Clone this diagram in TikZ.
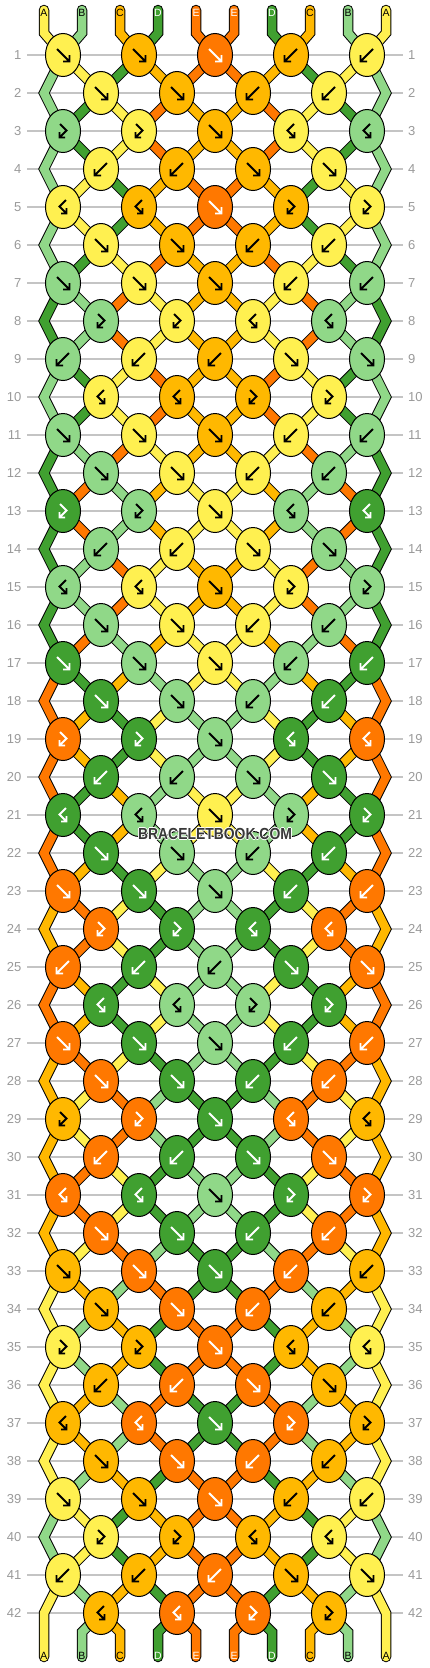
\documentclass[tikz,border=0pt]{standalone}
\usepackage{fontspec}
\setmainfont{Liberation Sans}
\usetikzlibrary{shapes.geometric}
\definecolor{cY}{HTML}{FFF050}
\definecolor{cL}{HTML}{90D888}
\definecolor{cO}{HTML}{FFB800}
\definecolor{cG}{HTML}{40A030}
\definecolor{cR}{HTML}{FF7800}
\colorlet{gY}{black}\colorlet{gL}{black}\colorlet{gO}{black}
\colorlet{gG}{white}\colorlet{gR}{white}
\definecolor{rowgray}{HTML}{9A9A9A}
\definecolor{linegray}{HTML}{C4C4C4}
\definecolor{wmgray}{HTML}{383838}
\newcommand\bbletY{A}\newcommand\bbletL{B}\newcommand\bbletO{C}\newcommand\bbletG{D}\newcommand\bbletR{E}
\tikzset{
  knot/.style={ellipse, draw=black, line width=1pt, minimum width=35pt, minimum height=43pt, inner sep=0pt},
  strandout/.style={line width=10.5pt, line cap=round, line join=miter},
  strandin/.style={line width=8.5pt, line cap=round, line join=miter},
  glyph/.style={line width=1.9pt, line cap=butt, line join=miter},
  gridline/.style={draw=linegray, line width=1.4pt},
  rownum/.style={text=rowgray, font=\fontsize{13}{13}\selectfont, inner sep=0pt},
  lab/.style={font=\fontsize{10.5}{10.5}\selectfont, inner sep=0pt},
  wm/.style={font=\fontsize{16}{16}\selectfont\bfseries, xscale=0.87, inner sep=0pt}
}
\newcommand\kgf[2]{\draw[glyph,draw=#2,shift={#1}] (-6,-6) -- (6.5,6.5) (0,6.5) -- (6.5,6.5) -- (6.5,0);}
\newcommand\kgb[2]{\draw[glyph,draw=#2,shift={#1}] (6,-6) -- (-6.5,6.5) (0,6.5) -- (-6.5,6.5) -- (-6.5,0);}
\newcommand\kgfb[2]{\draw[glyph,draw=#2,shift={#1}] (-3,-7) -- (3.5,-0.5) -- (-3.5,6.5) (-3.5,1) -- (-3.5,6.5) -- (2,6.5);}
\newcommand\kgbf[2]{\draw[glyph,draw=#2,shift={#1}] (3,-7) -- (-3.5,-0.5) -- (3.5,6.5) (3.5,1) -- (3.5,6.5) -- (-2,6.5);}
\newcommand\knotdata{
1/{Y/f,O/f,R/f,O/b,Y/b},
2/{Y/f,O/f,O/b,Y/b},
3/{L/fb,Y/fb,O/f,Y/bf,L/bf},
4/{Y/b,O/b,O/f,Y/f},
5/{Y/bf,O/bf,R/f,O/fb,Y/fb},
6/{Y/f,O/f,O/b,Y/b},
7/{L/f,Y/f,O/f,Y/b,L/b},
8/{L/fb,Y/fb,Y/bf,L/bf},
9/{L/b,Y/b,O/b,Y/f,L/f},
10/{Y/bf,O/bf,O/fb,Y/fb},
11/{L/f,Y/f,O/f,Y/b,L/b},
12/{L/f,Y/f,Y/b,L/b},
13/{G/fb,L/fb,Y/f,L/bf,G/bf},
14/{L/b,Y/b,Y/f,L/f},
15/{L/bf,Y/bf,O/f,Y/fb,L/fb},
16/{L/f,Y/f,Y/b,L/b},
17/{G/f,L/f,Y/f,L/b,G/b},
18/{G/f,L/f,L/b,G/b},
19/{R/fb,G/fb,L/f,G/bf,R/bf},
20/{G/b,L/b,L/f,G/f},
21/{G/bf,L/bf,Y/f,L/fb,G/fb},
22/{G/f,L/f,L/b,G/b},
23/{R/f,G/f,L/f,G/b,R/b},
24/{R/fb,G/fb,G/bf,R/bf},
25/{R/b,G/b,L/b,G/f,R/f},
26/{G/bf,L/bf,L/fb,G/fb},
27/{R/f,G/f,L/f,G/b,R/b},
28/{R/f,G/f,G/b,R/b},
29/{O/fb,R/fb,G/f,R/bf,O/bf},
30/{R/b,G/b,G/f,R/f},
31/{R/bf,G/bf,L/f,G/fb,R/fb},
32/{R/f,G/f,G/b,R/b},
33/{O/f,R/f,G/f,R/b,O/b},
34/{O/f,R/f,R/b,O/b},
35/{Y/fb,O/fb,R/f,O/bf,Y/bf},
36/{O/b,R/b,R/f,O/f},
37/{O/bf,R/bf,G/f,R/fb,O/fb},
38/{O/f,R/f,R/b,O/b},
39/{Y/f,O/f,R/f,O/b,Y/b},
40/{Y/fb,O/fb,O/bf,Y/bf},
41/{Y/b,O/b,R/b,O/f,Y/f},
42/{O/bf,R/bf,R/fb,O/fb}}
\newcommand\statedata{
0/{Y,L,O,G,R,R,G,O,L,Y},
1/{L,Y,G,O,R,R,O,G,Y,L},
2/{L,G,Y,R,O,O,R,Y,G,L},
3/{L,G,Y,R,O,O,R,Y,G,L},
4/{L,Y,G,O,R,R,O,G,Y,L},
5/{L,Y,G,O,R,R,O,G,Y,L},
6/{L,G,Y,R,O,O,R,Y,G,L},
7/{G,L,R,Y,O,O,Y,R,L,G},
8/{G,L,R,Y,O,O,Y,R,L,G},
9/{L,G,Y,R,O,O,R,Y,G,L},
10/{L,G,Y,R,O,O,R,Y,G,L},
11/{G,L,R,Y,O,O,Y,R,L,G},
12/{G,R,L,O,Y,Y,O,L,R,G},
13/{G,R,L,O,Y,Y,O,L,R,G},
14/{G,L,R,Y,O,O,Y,R,L,G},
15/{G,L,R,Y,O,O,Y,R,L,G},
16/{G,R,L,O,Y,Y,O,L,R,G},
17/{R,G,O,L,Y,Y,L,O,G,R},
18/{R,O,G,Y,L,L,Y,G,O,R},
19/{R,O,G,Y,L,L,Y,G,O,R},
20/{R,G,O,L,Y,Y,L,O,G,R},
21/{R,G,O,L,Y,Y,L,O,G,R},
22/{R,O,G,Y,L,L,Y,G,O,R},
23/{O,R,Y,G,L,L,G,Y,R,O},
24/{O,R,Y,G,L,L,G,Y,R,O},
25/{R,O,G,Y,L,L,Y,G,O,R},
26/{R,O,G,Y,L,L,Y,G,O,R},
27/{O,R,Y,G,L,L,G,Y,R,O},
28/{O,Y,R,L,G,G,L,R,Y,O},
29/{O,Y,R,L,G,G,L,R,Y,O},
30/{O,R,Y,G,L,L,G,Y,R,O},
31/{O,R,Y,G,L,L,G,Y,R,O},
32/{O,Y,R,L,G,G,L,R,Y,O},
33/{Y,O,L,R,G,G,R,L,O,Y},
34/{Y,L,O,G,R,R,G,O,L,Y},
35/{Y,L,O,G,R,R,G,O,L,Y},
36/{Y,O,L,R,G,G,R,L,O,Y},
37/{Y,O,L,R,G,G,R,L,O,Y},
38/{Y,L,O,G,R,R,G,O,L,Y},
39/{L,Y,G,O,R,R,O,G,Y,L},
40/{L,Y,G,O,R,R,O,G,Y,L},
41/{Y,L,O,G,R,R,G,O,L,Y},
42/{Y,L,O,G,R,R,G,O,L,Y}}
\newcommand\bbstrands{%
\foreach \r/\S in \statedata {
  \pgfmathtruncatemacro\od{mod(\r,2)}
  \pgfmathtruncatemacro\rn{\r+1}
  \pgfmathtruncatemacro\rnn{\r+2}
  \foreach \cc [count=\p] in \S {
    \pgfmathtruncatemacro\hi{(\p+1)/2}
    \pgfmathtruncatemacro\lo{\p/2}
    \ifnum\r=0\relax
      \pgfmathsetmacro\xt{ifthenelse(mod(\p,2)==1, 44+76*(\hi-1), 82+76*(\lo-1))}
      \coordinate (top-\p) at (\xt,10);
      \coordinate (topb-\p) at (\xt,33);
      \draw[strand, draw=c\cc] (top-\p) -- (topb-\p) -- (c-1-\hi);
    \else\ifnum\r=42\relax
      \ifnum\p>1\relax\ifnum\p<10\relax
        \pgfmathsetmacro\xb{ifthenelse(mod(\p,2)==0, 82+76*(\lo-1), 120+76*(\lo-1))}
        \coordinate (bb-\p) at (\xb,1632);
        \coordinate (bot-\p) at (\xb,1657);
        \draw[strand, draw=c\cc] (c-42-\lo) -- (bb-\p) -- (bot-\p);
      \fi\fi
    \else\ifnum\od=1\relax
      \ifnum\p=1\relax
        \ifnum\r<41\relax
          \pgfmathsetmacro\yb{55+38*\r}
          \coordinate (eL-\rn) at (44,\yb);
          \draw[strand, draw=c\cc] (c-\r-1) -- (eL-\rn) -- (c-\rnn-1);
        \else
          \coordinate (eL-42) at (44,1613);
          \coordinate (bot-1) at (44,1657);
          \draw[strand, draw=c\cc] (c-41-1) -- (eL-42) -- (bot-1);
        \fi
      \else\ifnum\p=10\relax
        \ifnum\r<41\relax
          \pgfmathsetmacro\yb{55+38*\r}
          \coordinate (eR-\rn) at (386,\yb);
          \draw[strand, draw=c\cc] (c-\r-5) -- (eR-\rn) -- (c-\rnn-5);
        \else
          \coordinate (eR-42) at (386,1613);
          \coordinate (bot-10) at (386,1657);
          \draw[strand, draw=c\cc] (c-41-5) -- (eR-42) -- (bot-10);
        \fi
      \else
        \draw[strand, draw=c\cc] (c-\r-\hi) -- (c-\rn-\lo);
      \fi\fi
    \else
      \ifnum\p>1\relax\ifnum\p<10\relax
        \draw[strand, draw=c\cc] (c-\r-\lo) -- (c-\rn-\hi);
      \fi\fi
    \fi\fi\fi
  }
}}
\begin{document}
\begin{tikzpicture}[x=1pt,y=-1pt]
\useasboundingbox (0,0) rectangle (430,1668);
\fill[white] (0,0) rectangle (430,1668);
\foreach \r in {1,...,42}{
  \pgfmathsetmacro\yy{55+38*(\r-1)}
  \draw[gridline] (27,\yy) -- (403,\yy);
  \node[rownum, anchor=east] (nl-\r) at (21.5,\yy) {\r};
  \node[rownum, anchor=west] (nr-\r) at (408,\yy) {\r};
}
% knot centres
\foreach \r/\K in \knotdata {
  \pgfmathtruncatemacro\od{mod(\r,2)}
  \pgfmathsetmacro\yy{55+38*(\r-1)}
  \foreach \cc/\tp [count=\i] in \K {
    \ifnum\od=1\relax
      \pgfmathsetmacro\xx{63+76*(\i-1)}%
    \else
      \pgfmathsetmacro\xx{101+76*(\i-1)}%
    \fi
    \coordinate (c-\r-\i) at (\xx,\yy);
  }
}
% strands: outline pass, then colour pass
\begin{scope}
  \colorlet{cY}{black}\colorlet{cL}{black}\colorlet{cO}{black}\colorlet{cG}{black}\colorlet{cR}{black}
  \tikzset{strand/.style={strandout}}
  \bbstrands
\end{scope}
\begin{scope}
  \tikzset{strand/.style={strandin}}
  \bbstrands
\end{scope}
% knots
\foreach \r/\K in \knotdata {
  \foreach \cc/\tp [count=\i] in \K {
    \node[knot, fill=c\cc] (k-\r-\i) at (c-\r-\i) {};
    \csname kg\tp\endcsname{(c-\r-\i)}{g\cc}
  }
}
% string labels
\colorlet{tY}{black}\colorlet{tL}{black}\colorlet{tO}{black}\colorlet{tG}{white}\colorlet{tR}{white}
\foreach \cc/\x [count=\p] in {Y/44,L/82,O/120,G/158,R/196,R/234,G/272,O/310,L/348,Y/386}{
  \node[lab, text=t\cc] (lt-\p) at (\x,12.5) {\csname bblet\cc\endcsname};
  \node[lab, text=t\cc] (lb-\p) at (\x,1656) {\csname bblet\cc\endcsname};
}
% watermark
\foreach \dx/\dy [count=\w] in {-1/0,1/0,0/-1,0/1}{
  \node[wm, text=white] (wmh-\w) at (215+\dx,833.5+\dy) {BRACELETBOOK.COM};
}
\node[wm, text=wmgray] (wm) at (215,833.5) {BRACELETBOOK.COM};
\end{tikzpicture}
\end{document}
